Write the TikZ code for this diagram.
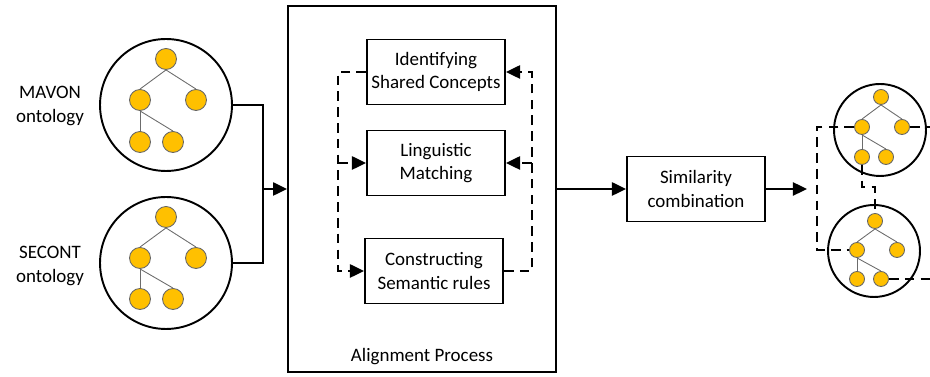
\documentclass[tikz,border=0pt]{standalone}
\usepackage{fontspec}
\setmainfont{Carlito}
\usetikzlibrary{arrows.meta}

\definecolor{conceptfill}{HTML}{FFC000}

\begin{document}
\begin{tikzpicture}[x=0.02cm,y=-0.02cm,
  every node/.style={font=\fontsize{10.8}{13.2}\selectfont},
  onto/.style={circle,draw,line width=1.1pt,minimum size=2.64cm,inner sep=0pt},
  smallonto/.style={circle,draw,line width=1.1pt,minimum size=1.84cm,inner sep=0pt},
  concept/.style={circle,draw=gray!80!black,line width=0.5pt,fill=conceptfill,minimum size=0.42cm,inner sep=0pt},
  smallconcept/.style={concept,minimum size=0.3cm},
  branch/.style={draw=gray!85!black,line width=0.5pt},
  stage/.style={draw,line width=1.1pt,minimum width=2.76cm,minimum height=1.3cm,align=center,inner sep=2pt},
  wire/.style={line width=1.1pt},
  flow/.style={wire,-{Triangle[length=8pt,width=7.5pt]}},
  feedback/.style={flow,dash pattern=on 5.5pt off 3.5pt},
  mapline/.style={wire,dash pattern=on 5.5pt off 3.5pt}]
\useasboundingbox (0,0) rectangle (930,377);

% input ontologies
\node[align=center] (mavonlbl) at (50,106) {MAVON\\ontology};
\node[align=center] (secontlbl) at (50,266) {SECONT\\ontology};

\node[onto] (mavon) at (166,105) {};
\node[concept] (m0) at (166,59) {};
\node[concept] (m1) at (140,100) {};
\node[concept] (m2) at (196,100) {};
\node[concept] (m3) at (140,142) {};
\node[concept] (m4) at (173,142) {};
\draw[branch] (m0.south) -- (m1.north);
\draw[branch] (m0.south) -- (m2.north);
\draw[branch] (m1.south) -- (m3.north);
\draw[branch] (m1.south) -- (m4.north);

\node[onto] (secont) at (166,263) {};
\node[concept] (s0) at (166,217) {};
\node[concept] (s1) at (140,258) {};
\node[concept] (s2) at (196,258) {};
\node[concept] (s3) at (140,299) {};
\node[concept] (s4) at (173,299) {};
\draw[branch] (s0.south) -- (s1.north);
\draw[branch] (s0.south) -- (s2.north);
\draw[branch] (s1.south) -- (s3.north);
\draw[branch] (s1.south) -- (s4.north);

% alignment process
\node[draw,line width=1.1pt,minimum width=5.36cm,minimum height=7.32cm] (align) at (422,189) {};
\node (alignlbl) at (422,357) {Alignment Process};
\node[stage] (ident) at (436,72) {Identifying\\Shared Concepts};
\node[stage] (ling) at (436,163) {Linguistic\\Matching};
\node[stage] (constr) at (434,271) {Constructing\\Semantic rules};

\coordinate (ltop) at (338,72);
\coordinate (rtop) at (532,72);
\draw[feedback] (ident.west) -- (ltop) |- (constr.west);
\draw[feedback] (ltop |- ling.west) -- (ling.west);
\draw[feedback] (constr.east) -| (rtop) -- (ident.east);
\draw[feedback] (rtop |- ling.east) -- (ling.east);

\coordinate (join) at (263,189);
\draw[wire] (mavon.east) -| (join);
\draw[wire] (secont.east) -| (join);
\draw[flow] (join) -- (join -| align.west);

\node[stage] (sim) at (696,189) {Similarity\\combination};
\draw[flow] (align.east) -- (sim.west);
\coordinate (out) at (807,189);
\draw[flow] (sim.east) -- (out);

% aligned ontologies
\node[smallonto] (top) at (880,130) {};
\node[smallconcept] (a0) at (881,97) {};
\node[smallconcept] (a1) at (862,127) {};
\node[smallconcept] (a2) at (902,127) {};
\node[smallconcept] (a3) at (862,157) {};
\node[smallconcept] (a4) at (886,157) {};
\draw[branch] (a0.south) -- (a1.north);
\draw[branch] (a0.south) -- (a2.north);
\draw[branch] (a1.south) -- (a3.north);
\draw[branch] (a1.south) -- (a4.north);

\node[smallonto] (bottom) at (874,251) {};
\node[smallconcept] (b0) at (875,221) {};
\node[smallconcept] (b1) at (857,250) {};
\node[smallconcept] (b2) at (897,250) {};
\node[smallconcept] (b3) at (857,279) {};
\node[smallconcept] (b4) at (881,279) {};
\draw[branch] (b0.south) -- (b1.north);
\draw[branch] (b0.south) -- (b2.north);
\draw[branch] (b1.south) -- (b3.north);
\draw[branch] (b1.south) -- (b4.north);

% mappings between concepts
\coordinate (mapbend) at (817,127);
\coordinate (edgeA) at (930,127);
\coordinate (kink) at (862,187);
\coordinate (edgeB) at (930,279);
\draw[mapline] (a1.west) -- (mapbend) |- (b1.west);
\draw[mapline] (a2.east) -- (edgeA);
\draw[mapline] (a3.south) -- (kink) -| (b0.north);
\draw[mapline] (b4.east) -- (edgeB);
\end{tikzpicture}
\end{document}
